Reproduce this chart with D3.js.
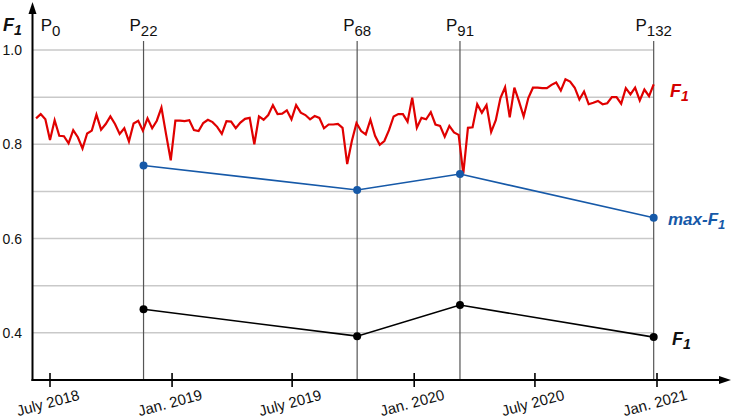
<!DOCTYPE html>
<html>
<head>
<meta charset="utf-8">
<script src="https://cdn.jsdelivr.net/npm/d3@7/dist/d3.min.js"></script>
<style>
  body { margin: 0; background: #fff; }
  svg { display: block; font-family: "Liberation Sans", Arial, sans-serif; }
</style>
</head>
<body>
<div id="chart"></div>
<script>
// -------------------- DATA --------------------
// weekly F1 values, first week starts 2018-06-10
const F1_START = new Date(2018, 5, 10);
const F1_WEEKLY = [
  0.855, 0.864, 0.853, 0.809, 0.851, 0.818, 0.817, 0.802, 0.830, 0.815,
  0.791, 0.823, 0.829, 0.863, 0.831, 0.843, 0.859, 0.843, 0.822, 0.834,
  0.806, 0.844, 0.850, 0.829, 0.855, 0.834, 0.850, 0.878, 0.821, 0.766,
  0.850, 0.850, 0.849, 0.851, 0.830, 0.828, 0.845, 0.852, 0.847, 0.837,
  0.822, 0.849, 0.848, 0.834, 0.846, 0.854, 0.856, 0.800, 0.859, 0.852,
  0.862, 0.883, 0.864, 0.865, 0.872, 0.853, 0.883, 0.867, 0.862, 0.853,
  0.860, 0.856, 0.834, 0.842, 0.842, 0.843, 0.835, 0.758, 0.807, 0.845,
  0.828, 0.821, 0.852, 0.818, 0.799, 0.807, 0.830, 0.859, 0.864, 0.864,
  0.848, 0.899, 0.835, 0.856, 0.853, 0.868, 0.842, 0.839, 0.816, 0.839,
  0.825, 0.820, 0.738, 0.835, 0.836, 0.885, 0.867, 0.883, 0.826, 0.851,
  0.898, 0.921, 0.857, 0.920, 0.891, 0.859, 0.898, 0.920, 0.920, 0.919,
  0.919, 0.926, 0.931, 0.914, 0.938, 0.933, 0.920, 0.895, 0.912, 0.885,
  0.888, 0.892, 0.885, 0.887, 0.900, 0.900, 0.886, 0.919, 0.906, 0.920,
  0.893, 0.916, 0.902, 0.927
];

const PERIOD_NAMES = ["0", "22", "68", "91", "132"];
const PERIOD_DATES = ["2018-06-17", "2018-11-19", "2019-10-07", "2020-03-10", "2020-12-27"];

// values at P22, P68, P91, P132
const MAX_F1 = [0.755, 0.703, 0.737, 0.644];
const F1_POINTS = [0.450, 0.393, 0.459, 0.391];

const X_TICK_DATES = ["2018-07-01", "2019-01-01", "2019-07-01", "2020-01-01", "2020-07-01", "2021-01-01"];
const X_TICK_LABELS = ["July 2018", "Jan. 2019", "July 2019", "Jan. 2020", "July 2020", "Jan. 2021"];
const Y_GRID = [0.4, 0.5, 0.6, 0.7, 0.8, 0.9, 1.0];
const Y_TICKS = [0.4, 0.6, 0.8, 1.0];

// -------------------- SETUP --------------------
const W = 733, H = 420;
const parse = d3.timeParse("%Y-%m-%d");

const svg = d3.select("#chart").append("svg")
  .attr("width", W)
  .attr("height", H);

const x = d3.scaleTime()
  .domain([parse("2018-07-01"), parse("2021-01-01")])
  .range([50, 657]);

const y = d3.scaleLinear()
  .domain([0.3, 1.0])
  .range([380, 50]);

const axisX0 = 32.5;
const axisY0 = y(0.3);

const periods = PERIOD_NAMES.map((p, i) => ({ name: p, date: parse(PERIOD_DATES[i]) }));
const lastX = x(periods[periods.length - 1].date);

/* -------------------- GRID -------------------- */
svg.append("g")
  .selectAll("line")
  .data(Y_GRID)
  .join("line")
  .attr("x1", axisX0)
  .attr("x2", lastX)
  .attr("y1", d => y(d))
  .attr("y2", d => y(d))
  .attr("stroke", "#c9c9c9")
  .attr("stroke-width", 1.5);

svg.append("g")
  .selectAll("text")
  .data(Y_TICKS)
  .join("text")
  .attr("x", 22)
  .attr("y", d => y(d) + 5)
  .attr("text-anchor", "end")
  .attr("font-size", 14)
  .attr("fill", "#111")
  .text(d => d.toFixed(1));

/* -------------------- PERIOD LINES -------------------- */
svg.append("g")
  .selectAll("line")
  .data(periods.slice(1))
  .join("line")
  .attr("x1", d => x(d.date))
  .attr("x2", d => x(d.date))
  .attr("y1", 41)
  .attr("y2", axisY0)
  .attr("stroke", "#555")
  .attr("stroke-width", 1.2);

const plabels = svg.append("g")
  .selectAll("text")
  .data(periods)
  .join("text")
  .attr("x", d => x(d.date))
  .attr("y", 31)
  .attr("text-anchor", (d, i) => i === 0 ? "start" : "middle")
  .attr("fill", "#111");
plabels.append("tspan").attr("font-size", 17).text("P");
plabels.append("tspan").attr("font-size", 15).attr("dy", 5).text(d => d.name);

/* -------------------- F1 WEEKLY (red) -------------------- */
const weekly = F1_WEEKLY.map((v, i) => ({ date: d3.timeDay.offset(F1_START, 7 * i), value: v }));

svg.append("path")
  .datum(weekly)
  .attr("fill", "none")
  .attr("stroke", "#e00000")
  .attr("stroke-width", 2.2)
  .attr("stroke-linejoin", "miter")
  .attr("d", d3.line().x(d => x(d.date)).y(d => y(d.value)));

/* -------------------- max-F1 (blue) and F1 (black) -------------------- */
function drawPointSeries(values, color) {
  const pts = values.map((v, i) => ({ date: periods[i + 1].date, value: v }));
  svg.append("path")
    .datum(pts)
    .attr("fill", "none")
    .attr("stroke", color)
    .attr("stroke-width", 1.6)
    .attr("d", d3.line().x(d => x(d.date)).y(d => y(d.value)));
  svg.append("g")
    .selectAll("circle")
    .data(pts)
    .join("circle")
    .attr("cx", d => x(d.date))
    .attr("cy", d => y(d.value))
    .attr("r", 4)
    .attr("fill", color);
}
drawPointSeries(MAX_F1, "#1659a8");
drawPointSeries(F1_POINTS, "#000");

/* -------------------- AXES -------------------- */
svg.append("line")
  .attr("x1", axisX0).attr("x2", axisX0)
  .attr("y1", axisY0 + 1).attr("y2", 10)
  .attr("stroke", "#000").attr("stroke-width", 2);
svg.append("path")
  .attr("d", `M${axisX0},2 L${axisX0 - 4},14 L${axisX0 + 4},14 Z`)
  .attr("fill", "#000");

svg.append("line")
  .attr("x1", axisX0 - 1).attr("x2", 722)
  .attr("y1", axisY0).attr("y2", axisY0)
  .attr("stroke", "#000").attr("stroke-width", 2);
svg.append("path")
  .attr("d", `M731,${axisY0} L719,${axisY0 - 4} L719,${axisY0 + 4} Z`)
  .attr("fill", "#000");

const xTicks = X_TICK_DATES.map((d, i) => ({ date: parse(d), label: X_TICK_LABELS[i] }));
svg.append("g")
  .selectAll("line")
  .data(xTicks)
  .join("line")
  .attr("x1", d => x(d.date)).attr("x2", d => x(d.date))
  .attr("y1", axisY0 - 7).attr("y2", axisY0 + 7)
  .attr("stroke", "#000").attr("stroke-width", 1.6);

svg.append("g")
  .selectAll("text")
  .data(xTicks)
  .join("text")
  .attr("x", d => x(d.date) - 2)
  .attr("y", 408)
  .attr("text-anchor", "middle")
  .attr("font-size", 15)
  .attr("fill", "#111")
  .attr("transform", d => `rotate(-15, ${x(d.date) - 2}, 403)`)
  .text(d => d.label);

/* -------------------- LABELS -------------------- */
function subLabel(xp, yp, main, sub, color, size) {
  const t = svg.append("text")
    .attr("x", xp).attr("y", yp)
    .attr("fill", color)
    .attr("font-weight", "bold")
    .attr("font-style", "italic");
  t.append("tspan").attr("font-size", size).text(main);
  t.append("tspan").attr("font-size", size - 4).attr("dy", 4).text(sub);
}
subLabel(3, 31, "F", "1", "#111", 18);
subLabel(670, 97, "F", "1", "#d40000", 18);
subLabel(668, 225, "max-F", "1", "#1659a8", 17);
subLabel(672, 345, "F", "1", "#111", 18);
</script>
</body>
</html>
